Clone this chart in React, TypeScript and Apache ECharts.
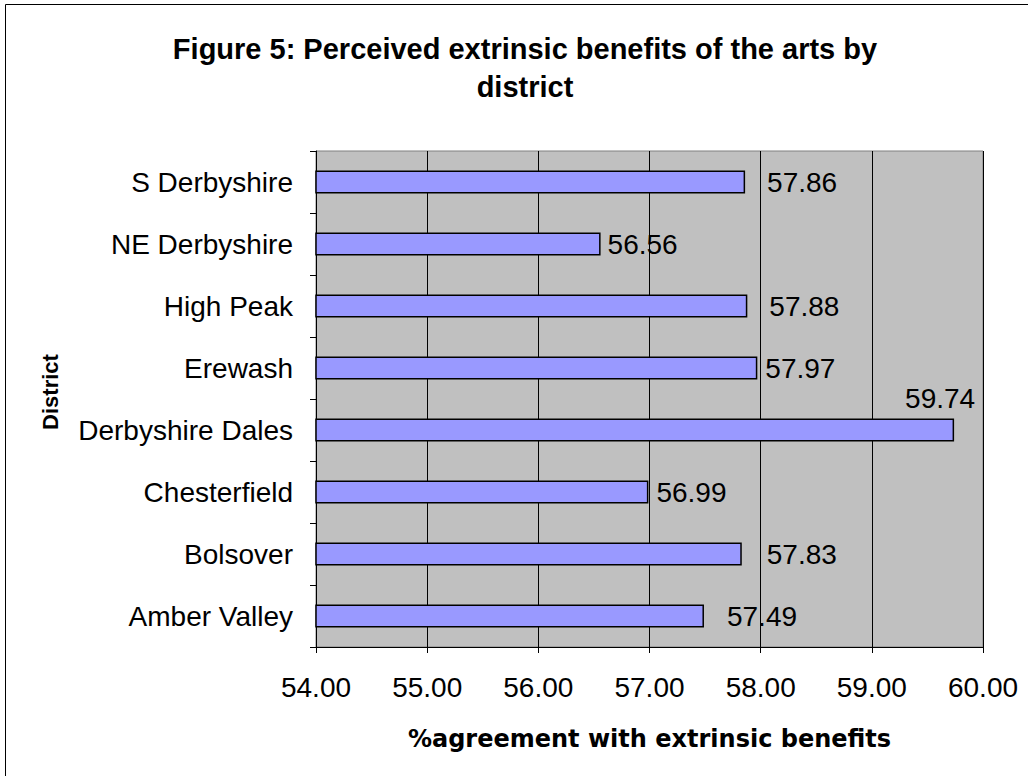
import React, { useEffect, useRef } from "react";
import * as echarts from "echarts";

const categories = [
  "Amber Valley",
  "Bolsover",
  "Chesterfield",
  "Derbyshire Dales",
  "Erewash",
  "High Peak",
  "NE Derbyshire",
  "S Derbyshire",
];
const values = [57.49, 57.83, 56.99, 59.74, 57.97, 57.88, 56.56, 57.86];
const xTicks = { min: 54, max: 60, interval: 1 };
const titleLines = ["Figure 5: Perceived extrinsic benefits of the arts by", "district"];
const xAxisTitle = "%agreement with extrinsic benefits";
const yAxisTitle = "District";

// label placement tweaks (style only)
const labelGap = [23, 25, 8, 0, 8, 22, 7, 22];
const labelOffset: [number, number][] = [
  [0, 0], [0, 0], [0, 0], [-49, -32], [0, 0], [0, 0], [0, 0], [0, 0],
];

const FONT = "'Liberation Sans', Arial, sans-serif";

export default function App() {
  const ref = useRef<HTMLDivElement>(null);
  useEffect(() => {
    if (!ref.current) return;
    const chart = echarts.init(ref.current, null, { renderer: "svg" });
    chart.setOption({
      animation: false,
      backgroundColor: "#ffffff",
      textStyle: { fontFamily: FONT },
      graphic: [
        {
          type: "rect",
          shape: { x: 5.5, y: 4.5, width: 1040, height: 800 },
          style: { fill: "none", stroke: "#000", lineWidth: 1 },
          silent: true,
        },
        {
          type: "text",
          x: 525,
          y: 49,
          style: {
            text: titleLines[0],
            fontSize: 29,
            fontWeight: "bold",
            fontFamily: FONT,
            fill: "#000",
            align: "center",
            verticalAlign: "middle",
          },
        },
        {
          type: "text",
          x: 525,
          y: 87,
          style: {
            text: titleLines[1],
            fontSize: 29,
            fontWeight: "bold",
            fontFamily: FONT,
            fill: "#000",
            align: "center",
            verticalAlign: "middle",
          },
        },
      ],
      grid: {
        left: 316,
        top: 151,
        width: 667,
        height: 496,
        show: true,
        backgroundColor: "#C0C0C0",
        borderColor: "#808080",
        borderWidth: 1,
      },
      xAxis: {
        type: "value",
        min: xTicks.min,
        max: xTicks.max,
        interval: xTicks.interval,
        name: xAxisTitle,
        nameLocation: "middle",
        nameGap: 80,
        nameTextStyle: {
          fontSize: 24,
          fontWeight: "bold",
          color: "#000",
          fontFamily: "'DejaVu Sans', 'Liberation Sans', sans-serif",
        },
        axisLine: { show: true, lineStyle: { color: "#000", width: 1 } },
        axisTick: { show: true, length: 6, lineStyle: { color: "#000" } },
        axisLabel: {
          formatter: (v: number) => v.toFixed(2),
          fontSize: 28,
          color: "#000",
          margin: 26,
          fontFamily: FONT,
        },
        splitLine: { show: true, lineStyle: { color: "#000", width: 1 } },
      },
      yAxis: {
        type: "category",
        data: categories,
        name: yAxisTitle,
        nameLocation: "middle",
        nameRotate: 90,
        nameGap: 255,
        nameTextStyle: {
          fontSize: 22,
          fontWeight: "bold",
          color: "#000",
          fontFamily: FONT,
          padding: [0, 0, 0, 14],
        },
        axisLine: { show: true, lineStyle: { color: "#000", width: 1 } },
        axisTick: { show: true, length: 6, inside: false, lineStyle: { color: "#000" } },
        axisLabel: { fontSize: 28, color: "#000", margin: 23, fontFamily: FONT },
        splitLine: { show: false },
      },
      series: [
        {
          type: "bar",
          barWidth: 23,
          data: values.map((v, i) => ({
            value: v,
            label: { distance: labelGap[i], offset: labelOffset[i] },
          })),
          itemStyle: { color: "#9999FF", borderColor: "#000", borderWidth: 1.5 },
          label: {
            show: true,
            position: "right",
            formatter: (p: any) => Number(p.value).toFixed(2),
            fontSize: 28,
            color: "#000",
            fontFamily: FONT,
          },
        },
      ],
    });
    return () => chart.dispose();
  }, []);
  return (
    <div
      ref={ref}
      style={{ position: "fixed", left: 0, top: 0, width: 1028, height: 776 }}
    />
  );
}
